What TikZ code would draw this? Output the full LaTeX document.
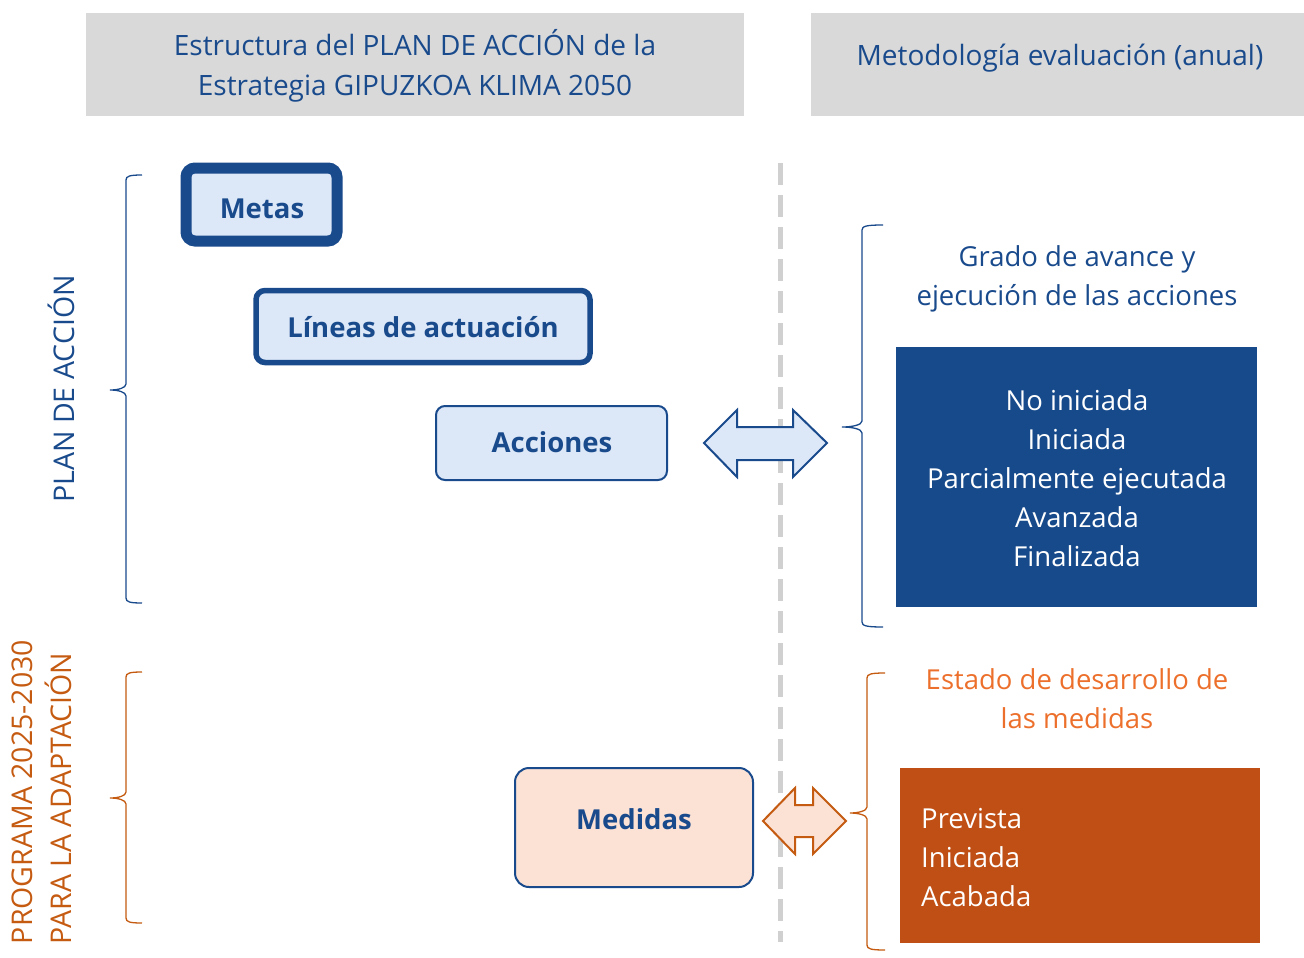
\documentclass[tikz,border=0pt]{standalone}
\usepackage{fontspec}
\setmainfont{Open Sans}
\definecolor{navy}{RGB}{25,74,140}
\definecolor{navybox}{RGB}{23,74,139}
\definecolor{lightblue}{RGB}{220,231,247}
\definecolor{headgray}{RGB}{217,217,217}
\definecolor{dashgray}{RGB}{208,208,208}
\definecolor{orangebox}{RGB}{192,79,21}
\definecolor{orangetxt}{RGB}{236,112,44}
\definecolor{orangedark}{RGB}{197,90,17}
\definecolor{peach}{RGB}{251,226,213}
\definecolor{orangeline}{RGB}{197,90,17}
\tikzset{
  header/.style={fill=headgray, draw=none, inner sep=0pt, text=navy, align=center, font=\fontsize{28}{40}\selectfont},
  levelbox/.style={fill=lightblue, draw=navy, rounded corners=9pt, inner sep=0pt, text=navy, font=\bfseries\fontsize{27.5}{32}\selectfont},
  boxlabel/.style={inner sep=0pt, text=navy, font=\bfseries\fontsize{27.5}{32}\selectfont},
  bodytxt/.style={inner sep=0pt, align=center, font=\fontsize{27.5}{39}\selectfont},
  rottxt/.style={inner sep=0pt, font=\fontsize{28.5}{39}\selectfont},
  bracebl/.style={draw=navy, line width=1.3pt},
  braceor/.style={draw=orangeline, line width=1.3pt},
}
\begin{document}
\begin{tikzpicture}[x=1pt,y=-1pt]
\useasboundingbox (0,0) rectangle (1304,958);
% headers
\node[header, minimum width=658pt, minimum height=103pt] (h1) at (415,64.5) {};
\node[header, fill=none] (h1txt) at (415,66)
  {Estructura del PLAN DE ACCIÓN de la\\Estrategia GIPUZKOA KLIMA 2050};
\node[header, minimum width=493pt, minimum height=103pt] (h2) at (1057.5,64.5) {};
\node[header, fill=none] (h2txt) at (1060,58) {Metodología evaluación (anual)};
% dashed divider
\coordinate (dtop) at (780,163);
\coordinate (dbot) at (780,942);
\draw[dashgray, line width=5pt, dash pattern=on 22pt off 10pt] (dtop) -- (dbot);
% left boxes
\node[levelbox, line width=11pt, minimum width=151pt, minimum height=73pt] (metas) at (261.5,204.5) {};
\node[boxlabel] (metastxt) at (262,208.5) {Metas};
\node[levelbox, line width=5.5pt, minimum width=334pt, minimum height=72pt] (lineas) at (423,326.5) {};
\node[boxlabel] (lineastxt) at (423,327) {Líneas de actuación};
\node[levelbox, line width=2pt, minimum width=231pt, minimum height=74pt] (acciones) at (551.5,443) {};
\node[boxlabel] (accionestxt) at (552,442) {Acciones};
\node[levelbox, fill=peach, line width=2pt, rounded corners=14pt, minimum width=238pt, minimum height=119pt] (medidas) at (634,827.5) {};
\node[boxlabel] (medidastxt) at (634,819) {Medidas};
% double arrows
\draw[navy, line width=2pt, fill=lightblue, line join=miter]
  (704,443) -- (737,410) -- (737,427) -- (793,427) -- (793,410) -- (827,443)
  -- (793,477) -- (793,460) -- (737,460) -- (737,477) -- cycle;
\draw[orangeline, line width=2pt, fill=peach, line join=miter]
  (763,821) -- (795,788) -- (795,805) -- (813,805) -- (813,788) -- (846,821)
  -- (813,854) -- (813,837) -- (795,837) -- (795,854) -- cycle;
% braces
\draw[bracebl] (142,175) .. controls (130,175) and (126,176) .. (126,180) -- (126,384)
  .. controls (126,388) and (118,390) .. (110,390) .. controls (118,390) and (126,392) .. (126,396)
  -- (126,598) .. controls (126,602) and (130,603) .. (142,603);
\draw[braceor] (142,672) .. controls (130,672) and (126,673) .. (126,677) -- (126,792)
  .. controls (126,796) and (118,798) .. (110,798) .. controls (118,798) and (126,800) .. (126,804)
  -- (126,918) .. controls (126,922) and (130,923) .. (142,923);
\draw[bracebl] (883,225) .. controls (867,225) and (862,226) .. (862,230) -- (862,421)
  .. controls (862,425) and (852,427) .. (842,427) .. controls (852,427) and (862,429) .. (862,433)
  -- (862,622) .. controls (862,626) and (867,627) .. (883,627);
\draw[braceor] (885,673) .. controls (871,673) and (867,674) .. (867,678) -- (867,807)
  .. controls (867,811) and (858,813) .. (850,813) .. controls (858,813) and (867,815) .. (867,819)
  -- (867,945) .. controls (867,949) and (871,950) .. (885,950);
% rotated labels
\node[rottxt, text=navy, rotate=90] (plan) at (61,389) {PLAN DE ACCIÓN};
\node[rottxt, text=orangedark, rotate=90, align=left] (prog) at (42,792) {PROGRAMA 2025-2030\\PARA LA ADAPTACIÓN};
% right side
\node[bodytxt, text=navy] (grado) at (1077,279) {Grado de avance y\\ejecución de las acciones};
\node[fill=navybox, minimum width=361pt, minimum height=260pt, inner sep=0pt] (estbox) at (1076.5,477) {};
\node[bodytxt, text=white] (est) at (1077,478) {No iniciada\\Iniciada\\Parcialmente ejecutada\\Avanzada\\Finalizada};
\node[bodytxt, text=orangetxt] (estado) at (1077,698.5) {Estado de desarrollo de\\las medidas};
\node[fill=orangebox, minimum width=360pt, minimum height=175pt, inner sep=0pt] (medbox) at (1080,855.5) {};
\node[bodytxt, text=white, align=left, anchor=west] (med) at (921,857.5) {Prevista\\Iniciada\\Acabada};
\end{tikzpicture}
\end{document}
